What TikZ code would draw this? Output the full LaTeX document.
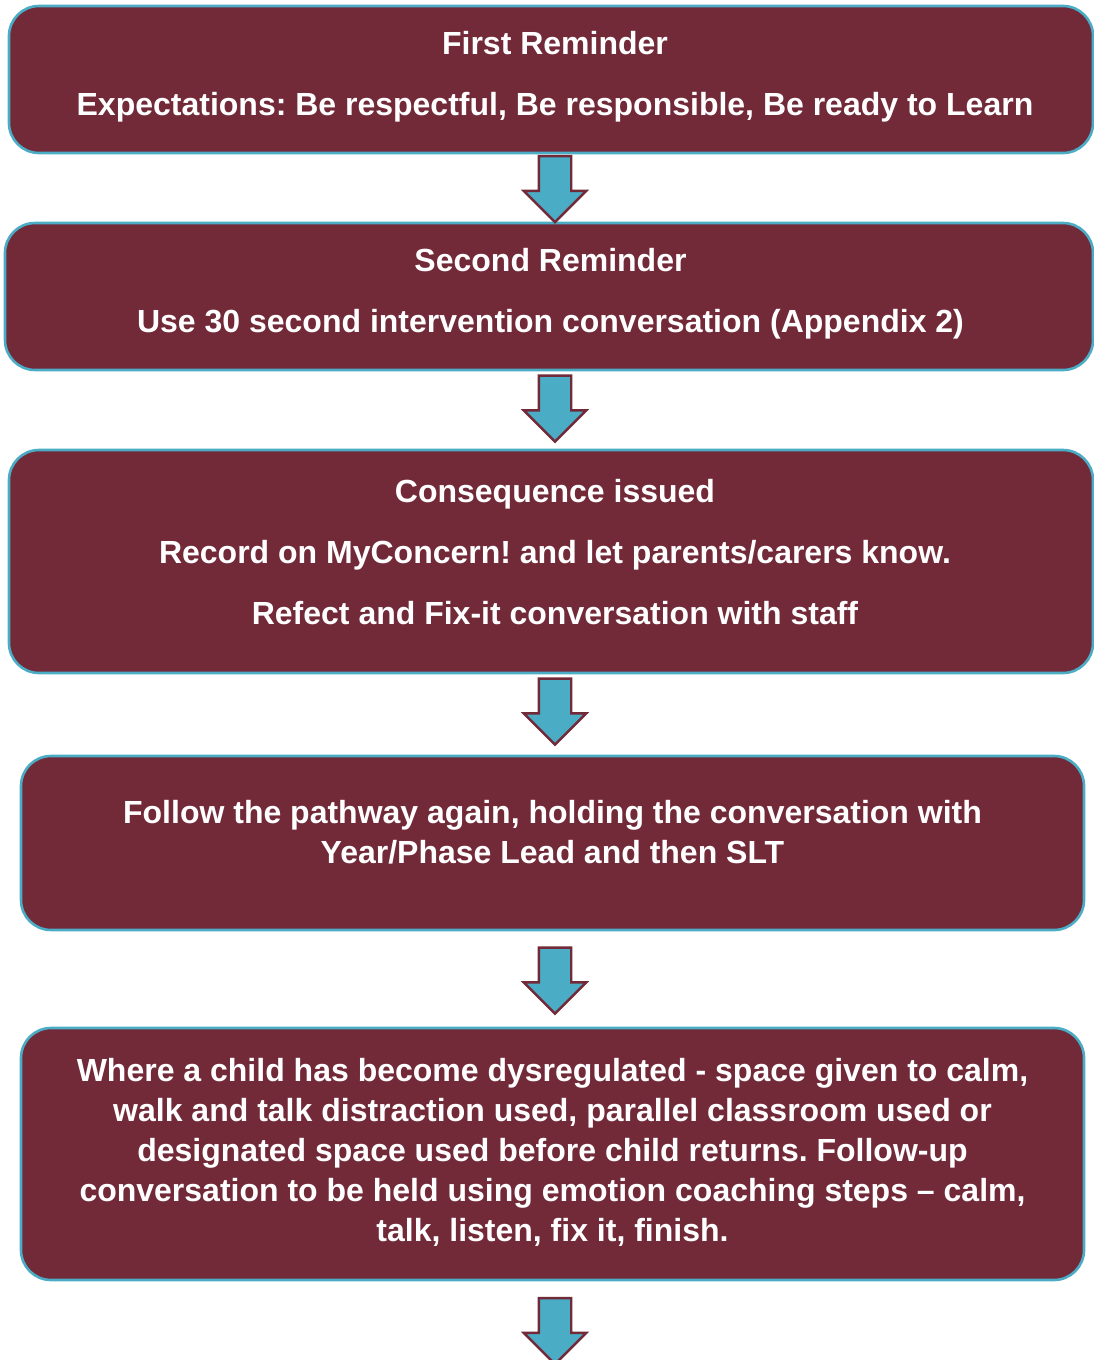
\documentclass[tikz,border=0pt]{standalone}
\usepackage{fontspec}
\setmainfont{Liberation Sans}
\usetikzlibrary{shapes.arrows}
\frenchspacing

\definecolor{maroonfill}{RGB}{114,42,57}
\definecolor{tealline}{RGB}{75,172,198}

\begin{document}
\begin{tikzpicture}[x=0.5pt,y=-0.5pt,
    stagebox/.style={draw=tealline,fill=maroonfill,line width=1.3pt,rounded corners=15pt,inner sep=0pt},
    stagetext/.style={text=white,align=center,font=\fontsize{16}{20}\selectfont\bfseries,inner sep=0pt},
    downarrow/.style={single arrow,draw=maroonfill,fill=tealline,line width=1.2pt,rotate=-90,
      minimum height=33pt,minimum width=30pt,inner sep=7.5pt,single arrow head extend=7.5pt}]

    %picture frame
    \useasboundingbox (0,0) rectangle (1093,1360);

    %boxes of the pathway
    \node[stagebox,minimum width=542pt,minimum height=73.5pt] (b1) at (551,79.5) {};
    \node[stagebox,minimum width=544pt,minimum height=73.5pt] (b2) at (549,296.5) {};
    \node[stagebox,minimum width=542pt,minimum height=111.5pt] (b3) at (551,561.5) {};
    \node[stagebox,minimum width=531.5pt,minimum height=87pt] (b4) at (552.5,843) {};
    \node[stagebox,minimum width=531.5pt,minimum height=126pt] (b5) at (552.5,1154) {};

    %texts
    \node[stagetext] (t1) at (555,76.5) {First Reminder\\[10.5pt]
      Expectations: Be respectful, Be responsible, Be ready to Learn};
    \node[stagetext] (t2) at (550.5,293.5) {Second Reminder\\[10.5pt]
      Use 30 second intervention conversation (Appendix 2)};
    \node[stagetext] (t3) at (555,552) {Consequence issued\\[10.5pt]
      Record on MyConcern! and let parents/carers know.\\[10.5pt]
      Refect and Fix-it conversation with staff};
    \node[stagetext] (t4) at (552.5,832) {Follow the pathway again, holding the conversation with\\
      Year/Phase Lead and then SLT};
    \node[stagetext] (t5) at (552.5,1152) {Where a child has become dysregulated - space given to calm,\\
      walk and talk distraction used, parallel classroom used or\\
      designated space used before child returns. Follow-up\\
      conversation to be held using emotion coaching steps -- calm,\\
      talk, listen, fix it, finish.};

    %arrows between boxes
    \node[downarrow] (a1) at (555,181) {};
    \node[downarrow] (a2) at (555,400.5) {};
    \node[downarrow] (a3) at (555,703.5) {};
    \node[downarrow] (a4) at (555,972.5) {};
    \node[downarrow] (a5) at (555,1323) {};

\end{tikzpicture}
\end{document}
